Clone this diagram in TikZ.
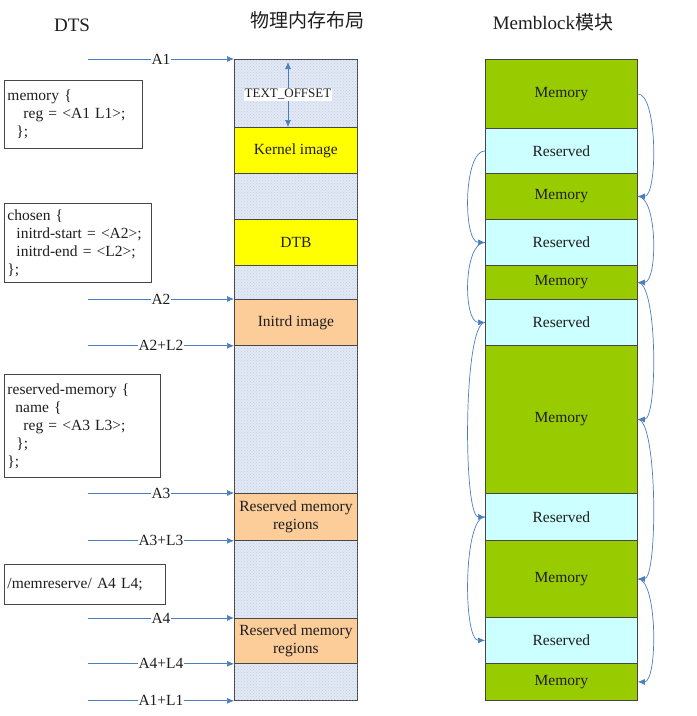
\documentclass[tikz,border=0pt]{standalone}
\usepackage{fontspec}
\setmainfont{Liberation Serif}
\newfontfamily\cjk{Noto Sans CJK SC}
\usetikzlibrary{arrows.meta,patterns}

\definecolor{memgreen}{RGB}{153,204,0}
\definecolor{rsvcyan}{RGB}{204,255,255}
\definecolor{kernyellow}{RGB}{255,255,0}
\definecolor{initpeach}{RGB}{252,204,153}
\definecolor{layoutbg}{RGB}{226,233,245}
\definecolor{layoutdot}{RGB}{196,208,230}
\definecolor{linkblue}{RGB}{74,126,190}
\definecolor{edgegray}{RGB}{70,70,70}
\definecolor{txtgray}{RGB}{30,30,30}

\tikzset{
  body/.style={font=\fontsize{15.5}{18}\selectfont, text=txtgray},
  heading/.style={font=\fontsize{19}{22}\selectfont, text=txtgray},
  dtsbox/.style={body, draw=edgegray, line width=1pt, anchor=north west,
                 align=left, inner sep=3pt},
  blk/.style={body, draw=edgegray, line width=0.8pt, anchor=north west,
              inner sep=0pt, align=center},
  midblk/.style={blk, minimum width=123pt},
  memblk/.style={blk, minimum width=152pt, fill=memgreen},
  rsvblk/.style={blk, minimum width=152pt, fill=rsvcyan},
  addr/.style={linkblue, line width=0.7pt, -{Latex[length=7pt,width=6pt]}},
  addrlbl/.style={body, fill=white, inner sep=1pt},
  link/.style={linkblue, line width=0.7pt, -{Latex[length=7pt,width=6pt]}},
}

\begin{document}
\begin{tikzpicture}[x=1pt,y=-1pt]
\useasboundingbox (0,0) rectangle (697,716);

% headings
\node[heading] (hdts) at (72,25) {DTS};
\node[heading] (hphys) at (307,20) {\cjk 物理内存布局};
\node[heading] (hmemb) at (553,22) {Memblock{\cjk 模块}};

% DTS snippets
\node[dtsbox, text width=132pt, minimum height=68pt] (dmem) at (4,80)
  {memory \{\\\hspace*{16pt}reg = <A1 L1>;\\\hspace*{9pt}\};};
\node[dtsbox, text width=141pt, minimum height=79pt] (dchosen) at (4,203)
  {chosen \{\\\hspace*{9pt}initrd-start = <A2>;\\\hspace*{9pt}initrd-end = <L2>;\\\};};
\node[dtsbox, text width=150pt, minimum height=103pt] (drsv) at (4,374)
  {reserved-memory \{\\\hspace*{8pt}name \{\\\hspace*{16pt}reg = <A3 L3>;\\\hspace*{9pt}\};\\\};};
\node[dtsbox, text width=155pt, minimum height=40pt] (dmemres) at (4,564)
  {/memreserve/ A4 L4;};

% physical layout
\node[midblk, minimum height=641pt, fill=layoutbg,
      postaction={pattern=crosshatch dots, pattern color=layoutdot}] (col) at (234,59) {};
\node[midblk, minimum height=46pt, fill=kernyellow] (kernel) at (234,127) {Kernel image};
\node[midblk, minimum height=46pt, fill=kernyellow] (dtb) at (234,219) {DTB};
\node[midblk, minimum height=46pt, fill=initpeach] (initrd) at (234,299) {Initrd image};
\node[midblk, minimum height=47pt, fill=initpeach] (rsvA) at (234,493) {Reserved memory\\regions};
\node[midblk, minimum height=45pt, fill=initpeach] (rsvB) at (234,618) {Reserved memory\\regions};

\coordinate (offtop) at (288,62);
\coordinate (offbot) at (288,127);
\draw[linkblue, line width=0.7pt, {Latex[length=7pt,width=6pt]}-{Latex[length=7pt,width=6pt]}]
  (offtop) -- node[fill=white, inner sep=1pt, text=txtgray, font=\fontsize{13}{15}\selectfont] (toff) {TEXT\_OFFSET} (offbot);

% addresses
\draw[addr] ([xshift=-146pt]col.north west) -- node[addrlbl] {A1} (col.north west);
\draw[addr] ([xshift=-146pt]initrd.north west) -- node[addrlbl] {A2} (initrd.north west);
\draw[addr] ([xshift=-146pt]initrd.south west) -- node[addrlbl] {A2+L2} (initrd.south west);
\draw[addr] ([xshift=-146pt]rsvA.north west) -- node[addrlbl] {A3} (rsvA.north west);
\draw[addr] ([xshift=-146pt]rsvA.south west) -- node[addrlbl] {A3+L3} (rsvA.south west);
\draw[addr] ([xshift=-146pt]rsvB.north west) -- node[addrlbl] {A4} (rsvB.north west);
\draw[addr] ([xshift=-146pt]rsvB.south west) -- node[addrlbl] {A4+L4} (rsvB.south west);
\draw[addr] ([xshift=-146pt]col.south west) -- node[addrlbl] {A1+L1} (col.south west);

% memblock regions
\foreach \n/\t/\h/\s/\txt in {m1/59/69/memblk/Memory, r1/128/45/rsvblk/Reserved,
    m2/173/46/memblk/Memory, r2/219/46/rsvblk/Reserved, m3/265/34/memblk/Memory,
    r3/299/46/rsvblk/Reserved, m4/345/148/memblk/Memory, r4/493/47/rsvblk/Reserved,
    m5/540/77/memblk/Memory, r5/617/46/rsvblk/Reserved, m6/663/37/memblk/Memory}
  \node[\s, minimum height=\h pt] (\n) at (485,\t) {\txt};

% memory list
\draw[link] (m1.east) .. controls +(20,0) and +(20,0) .. (m2.east);
\draw[link] (m2.east) .. controls +(20,0) and +(20,0) .. (m3.east);
\draw[link] (m3.east) .. controls +(20,0) and +(20,0) .. (m4.east);
\draw[link] (m4.east) .. controls +(20,0) and +(20,0) .. (m5.east);
\draw[link] (m5.east) .. controls +(20,0) and +(20,0) .. (m6.east);
% reserved list
\draw[link] (r1.west) .. controls +(-22,0) and +(-22,0) .. (r2.west);
\draw[link] (r2.west) .. controls +(-22,0) and +(-22,0) .. (r3.west);
\draw[link] (r3.west) .. controls +(-22,0) and +(-22,0) .. (r4.west);
\draw[link] (r4.west) .. controls +(-22,0) and +(-22,0) .. (r5.west);
\end{tikzpicture}
\end{document}
